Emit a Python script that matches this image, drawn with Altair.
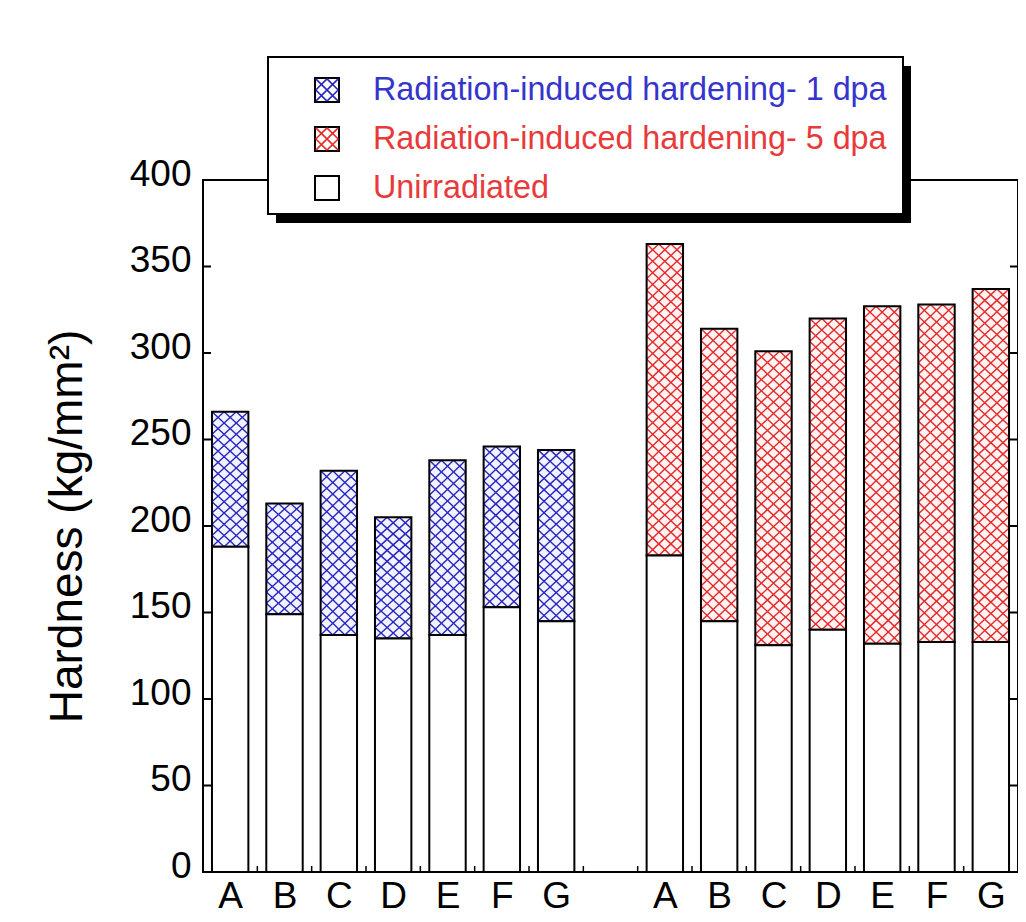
import json
import altair as alt
import pandas as pd

# ---------------- data ----------------
letters = ["A", "B", "C", "D", "E", "F", "G"]
pos_1dpa = [1, 2, 3, 4, 5, 6, 7]
pos_5dpa = [9, 10, 11, 12, 13, 14, 15]
unirr_1dpa = [188, 149, 137, 135, 137, 153, 145]
total_1dpa = [266, 213, 232, 205, 238, 246, 244]
unirr_5dpa = [183, 145, 131, 140, 132, 133, 133]
total_5dpa = [363, 314, 301, 320, 327, 328, 337]
y_tick_values = [0, 50, 100, 150, 200, 250, 300, 350, 400]
x_tick_bounds = [1.5, 2.5, 3.5, 4.5, 5.5, 6.5, 7.5, 8.5, 9.5, 10.5, 11.5, 12.5, 13.5, 14.5]
legend_labels = ["Radiation-induced hardening- 1 dpa",
                 "Radiation-induced hardening- 5 dpa",
                 "Unirradiated"]
legend_text_colors = ["#3535cc", "#e83a3a", "#e83a3a"]
group_names = ["1 dpa", "5 dpa"]
hatch_colors = ["#2626c0", "#e42a2a"]
hatch_bg_colors = ["#f3f3ff", "#fff3f3"]

df = pd.DataFrame({
    "pos": pos_1dpa + pos_5dpa,
    "letter": letters + letters,
    "lo": unirr_1dpa + unirr_5dpa,
    "hi": total_1dpa + total_5dpa,
    "grp": [group_names[0]] * 7 + [group_names[1]] * 7,
})

# ---------------- layout ----------------
W, H = 815, 692
BW = 0.67
NCOL = 3
FONT = "Liberation Sans"
PX_PER_UNIT = H / 400.0
CELL = 11.5

xscale = alt.Scale(domain=[0.5, 15.5], nice=False, zero=False)
yscale = alt.Scale(domain=[0, 400], nice=False)

label_arr = [""] * 16
for p, l in zip(pos_1dpa, letters):
    label_arr[p] = l
for p, l in zip(pos_5dpa, letters):
    label_arr[p] = l
label_expr = json.dumps(label_arr) + "[datum.value]"

x_axis = alt.Axis(values=pos_1dpa + pos_5dpa, labelExpr=label_expr, ticks=False, tickSize=0,
                  domain=False, grid=False, labelFontSize=37, labelFont=FONT, labelColor="black",
                  labelPadding=6, title=None, labelAngle=0)
y_axis = alt.Axis(values=y_tick_values, ticks=False, tickSize=0, domain=False, grid=False,
                  labelFontSize=37, labelFont=FONT, labelColor="black", labelPadding=12,
                  labelOffset=-6,
                  title="Hardness (kg/mm²)", titleFontSize=46, titleFont=FONT,
                  titleFontWeight="normal", titleColor="black", titlePadding=38)

color_scale = alt.Scale(domain=group_names, range=hatch_colors)
bg_scale = alt.Scale(domain=group_names, range=hatch_bg_colors)

base = alt.Chart(df).transform_calculate(
    xl=f"datum.pos - {BW / 2}",
).transform_calculate(
    xr=f"datum.pos + {BW / 2}",
).transform_calculate(
    zero="0",
)

# tinted background of hatched part
hatch_bg = base.mark_rect(strokeWidth=0).encode(
    x=alt.X("xl:Q", scale=xscale, axis=x_axis),
    x2="xr:Q",
    y=alt.Y("lo:Q", scale=yscale, axis=y_axis),
    y2="hi:Q",
    fill=alt.Fill("grp:N", scale=bg_scale, legend=None),
)

# hatch grid cells
cells = base.transform_calculate(
    n=f"max(1, round((datum.hi - datum.lo) * {PX_PER_UNIT} / {CELL}))"
).transform_calculate(
    rows="sequence(0, datum.n)"
).transform_flatten(["rows"], as_=["r"]).transform_calculate(
    cols=f"sequence(0, {NCOL})"
).transform_flatten(["cols"], as_=["c"]).transform_calculate(
    x0=f"datum.pos - {BW / 2} + datum.c * {BW / NCOL}"
).transform_calculate(
    x1=f"datum.pos - {BW / 2} + (datum.c + 1) * {BW / NCOL}"
).transform_calculate(
    y0="datum.lo + datum.r * (datum.hi - datum.lo) / datum.n"
).transform_calculate(
    y1="datum.lo + (datum.r + 1) * (datum.hi - datum.lo) / datum.n"
)

diag1 = cells.mark_rule(strokeWidth=1.4).encode(
    x=alt.X("x0:Q", scale=xscale, axis=x_axis), x2="x1:Q",
    y=alt.Y("y0:Q", scale=yscale, axis=y_axis), y2="y1:Q",
    color=alt.Color("grp:N", scale=color_scale, legend=None),
)
diag2 = cells.mark_rule(strokeWidth=1.4).encode(
    x=alt.X("x0:Q", scale=xscale, axis=x_axis), x2="x1:Q",
    y=alt.Y("y1:Q", scale=yscale, axis=y_axis), y2="y0:Q",
    color=alt.Color("grp:N", scale=color_scale, legend=None),
)

hatch_outline = base.mark_rect(fillOpacity=0, stroke="black", strokeWidth=2).encode(
    x=alt.X("xl:Q", scale=xscale, axis=x_axis), x2="xr:Q",
    y=alt.Y("lo:Q", scale=yscale, axis=y_axis), y2="hi:Q",
)
unirr = base.mark_rect(fill="white", stroke="black", strokeWidth=2).encode(
    x=alt.X("xl:Q", scale=xscale, axis=x_axis), x2="xr:Q",
    y=alt.Y("zero:Q", scale=yscale, axis=y_axis), y2="lo:Q",
)

# inward ticks
ytick_df = pd.DataFrame({"v": y_tick_values})
yt_left = alt.Chart(ytick_df).mark_rule(color="black", strokeWidth=2).encode(
    y=alt.Y("v:Q", scale=yscale, axis=y_axis), x=alt.value(0), x2=alt.value(8))
yt_right = alt.Chart(ytick_df).mark_rule(color="black", strokeWidth=2).encode(
    y=alt.Y("v:Q", scale=yscale, axis=y_axis), x=alt.value(W - 8), x2=alt.value(W))
xtick_df = pd.DataFrame({"b": x_tick_bounds})
xt = alt.Chart(xtick_df).mark_rule(color="black", strokeWidth=1.5).encode(
    x=alt.X("b:Q", scale=xscale, axis=x_axis), y=alt.value(H), y2=alt.value(H - 6))

# ---------------- custom legend ----------------
leg_df = pd.DataFrame({"label": legend_labels, "idx": [0, 1, 2]})
one = pd.DataFrame({"k": [0]})
LX0, LX1, LY0, LY1 = 65, 700, -123, 34
shadow = alt.Chart(one).mark_rect(fill="black").encode(
    x=alt.value(LX0 + 8), x2=alt.value(LX1 + 8), y=alt.value(LY0 + 9), y2=alt.value(LY1 + 9))
box = alt.Chart(one).mark_rect(fill="white", stroke="black", strokeWidth=2).encode(
    x=alt.value(LX0), x2=alt.value(LX1), y=alt.value(LY0), y2=alt.value(LY1))

row_y = [-90, -41, 8]
SYM_X = 124
TXT_X = 170
hatch_path = ("M-1,0L0,-1M-1,1L1,-1M0,1L1,0"
              "M-1,0L0,1M-1,-1L1,1M0,-1L1,0")
legend_layers = []
sym_hatch_colors = [hatch_colors[0], hatch_colors[1], None]
for i in range(3):
    sub = alt.Chart(leg_df).transform_filter(alt.datum.idx == i)
    legend_layers.append(sub.mark_point(shape="square", filled=True, fill="white",
                                        stroke="black", strokeWidth=2, size=576, opacity=1).encode(
        x=alt.value(SYM_X), y=alt.value(row_y[i])))
    if sym_hatch_colors[i]:
        legend_layers.append(sub.mark_point(shape=hatch_path, filled=False,
                                            stroke=sym_hatch_colors[i], strokeWidth=1.6,
                                            size=500, opacity=1).encode(
            x=alt.value(SYM_X), y=alt.value(row_y[i])))
    legend_layers.append(sub.mark_text(align="left", baseline="middle", font=FONT,
                                       fontSize=32.3, color=legend_text_colors[i]).encode(
        x=alt.value(TXT_X), y=alt.value(row_y[i]), text="label:N"))

chart = alt.layer(
    hatch_bg, diag1, diag2, hatch_outline, unirr, yt_left, yt_right, xt,
    shadow, box, *legend_layers
).resolve_scale(color="independent", fill="independent").properties(
    width=W, height=H,
    autosize=alt.AutoSizeParams(type="none"),
    padding={"left": 195, "top": 172, "right": 0, "bottom": 42},
    background="white",
).configure_view(stroke="black", strokeWidth=2)

chart.save("out.html", embed_options={"renderer": "svg", "actions": False})
